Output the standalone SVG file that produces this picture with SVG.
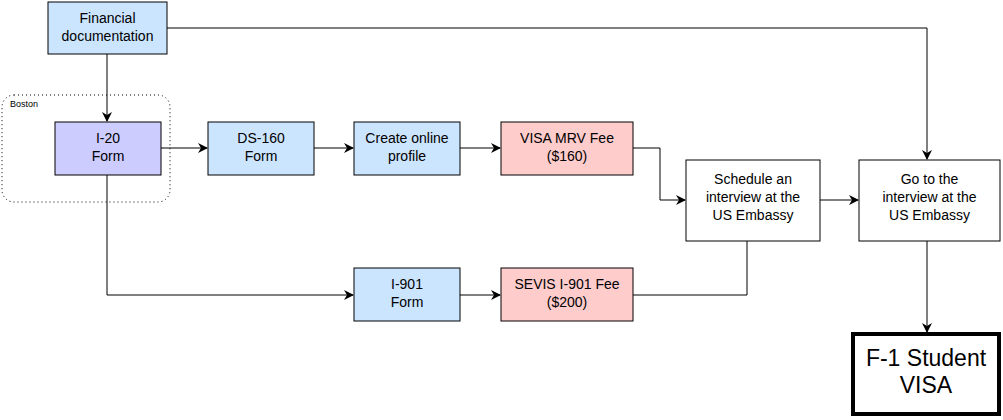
<svg xmlns="http://www.w3.org/2000/svg" width="1003" height="420" viewBox="0 0 1003 420">
<style>
.n{stroke:#000;stroke-width:1}
.t{font-family:"Liberation Sans",Arial,sans-serif;font-size:14px;text-anchor:middle;fill:#000}
.c{fill:none;stroke:#000;stroke-width:1}
</style>
<defs><marker id="a" markerWidth="10" markerHeight="10" refX="9" refY="5" orient="auto" markerUnits="userSpaceOnUse"><path d="M0,0 L10,5 L0,10 L3,5 Z" fill="#000"/></marker></defs>
<rect width="1003" height="420" fill="#fff"/>
<g id="boston"><rect x="2" y="95" width="168" height="107" rx="12" fill="none" stroke="#000" stroke-dasharray="1,3"/><text x="10" y="107" font-family="Liberation Sans,sans-serif" font-size="9">Boston</text></g>
<g id="connectors">
<path class="c" d="M107,54 V121" marker-end="url(#a)"/>
<path class="c" d="M167,28 H927 V159" marker-end="url(#a)"/>
<path class="c" d="M161,148 H207" marker-end="url(#a)"/>
<path class="c" d="M314,148 H353" marker-end="url(#a)"/>
<path class="c" d="M460,148 H500" marker-end="url(#a)"/>
<path class="c" d="M633,148 H660 V200 H685" marker-end="url(#a)"/>
<path class="c" d="M820,200 H858" marker-end="url(#a)"/>
<path class="c" d="M107,175 V295 H353" marker-end="url(#a)"/>
<path class="c" d="M460,295 H500" marker-end="url(#a)"/>
<path class="c" d="M633,295 H747 V241"/>
<path class="c" d="M927,241 V332" marker-end="url(#a)"/>
</g>
<g id="fin"><rect class="n" x="48" y="2" width="119" height="52" fill="#cce5ff"/><text class="t" x="107.5" y="23">Financial</text><text class="t" x="107.5" y="41">documentation</text></g>
<g id="i20"><rect class="n" x="55" y="122" width="106" height="53" fill="#ccccff"/><text class="t" x="108" y="143">I-20</text><text class="t" x="108" y="161">Form</text></g>
<g id="ds160"><rect class="n" x="208" y="122" width="106" height="53" fill="#cce5ff"/><text class="t" x="261" y="143">DS-160</text><text class="t" x="261" y="161">Form</text></g>
<g id="profile"><rect class="n" x="354" y="122" width="106" height="53" fill="#cce5ff"/><text class="t" x="407" y="143">Create online</text><text class="t" x="407" y="161">profile</text></g>
<g id="mrv"><rect class="n" x="501" y="122" width="132" height="53" fill="#ffcccc"/><text class="t" x="567" y="143">VISA MRV Fee</text><text class="t" x="567" y="161">($160)</text></g>
<g id="schedule"><rect class="n" x="686" y="160" width="134" height="81" fill="#fff"/><text class="t" x="753" y="184">Schedule an</text><text class="t" x="753" y="202">interview at the</text><text class="t" x="753" y="220">US Embassy</text></g>
<g id="goto"><rect class="n" x="859" y="160" width="141" height="81" fill="#fff"/><text class="t" x="929.5" y="184">Go to the</text><text class="t" x="929.5" y="202">interview at the</text><text class="t" x="929.5" y="220">US Embassy</text></g>
<g id="i901"><rect class="n" x="354" y="268" width="106" height="53" fill="#cce5ff"/><text class="t" x="407" y="289">I-901</text><text class="t" x="407" y="307">Form</text></g>
<g id="sevis"><rect class="n" x="501" y="268" width="132" height="53" fill="#ffcccc"/><text class="t" x="567" y="289">SEVIS I-901 Fee</text><text class="t" x="567" y="307">($200)</text></g>
<g id="f1"><rect x="853" y="334" width="146" height="80" fill="#fff" stroke="#000" stroke-width="4"/><text class="t" x="926" y="366" style="font-size:23px">F-1 Student</text><text class="t" x="926" y="393" style="font-size:23px">VISA</text></g>
</svg>
